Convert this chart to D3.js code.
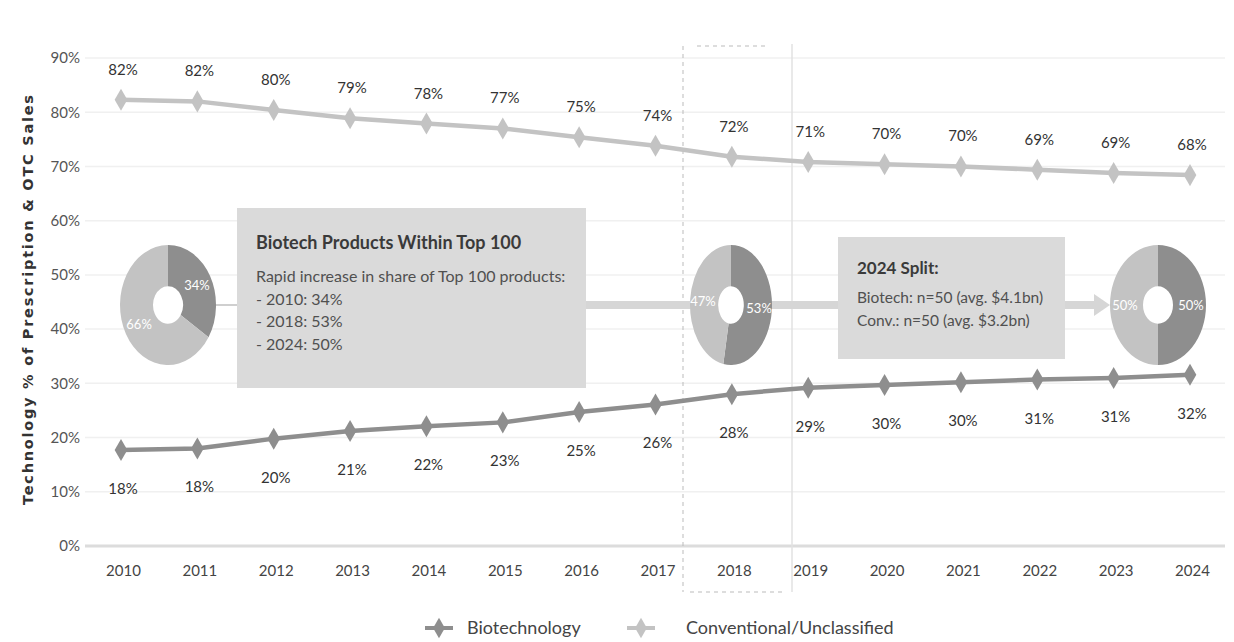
<!DOCTYPE html>
<html><head><meta charset="utf-8">
<script src="https://cdn.jsdelivr.net/npm/d3@7"></script>
<style>
html,body{margin:0;padding:0;background:#fff;}
svg{display:block;font-family:Lato,"Open Sans",sans-serif;}
</style></head>
<body><svg id="c" width="1234" height="642"></svg>
<script>
const years = [2010,2011,2012,2013,2014,2015,2016,2017,2018,2019,2020,2021,2022,2023,2024];
const conventional = [82.3,82.0,80.4,78.9,77.9,77.0,75.4,73.8,71.8,70.8,70.4,70.0,69.4,68.8,68.4];
const biotech = [17.7,18.0,19.8,21.2,22.1,22.8,24.7,26.1,28.0,29.2,29.7,30.2,30.7,31.0,31.6];
const yTicks = [0,10,20,30,40,50,60,70,80,90];
const seriesNames = ["Biotechnology","Conventional/Unclassified"];
const donutYears = [2010,2018,2024];
const donutBiotech = [34,53,50];
const box1Title = "Biotech Products Within Top 100";
const box1Lines = ["Rapid increase in share of Top 100 products:","- 2010: 34%","- 2018: 53%","- 2024: 50%"];
const box2Title = "2024 Split:";
const box2Lines = ["Biotech: n=50 (avg. $4.1bn)","Conv.: n=50 (avg. $3.2bn)"];
const yTitle = "Technology % of Prescription & OTC Sales";

const svg = d3.select("#c");
const x = d3.scalePoint().domain(years).range([121,1190]);
const y = d3.scaleLinear().domain([0,90]).range([546,58]);
const darkC = "#8e8e8e", lightC = "#c3c3c3";

// gridlines
svg.append("g").selectAll("line").data(yTicks.filter(d=>d>0)).join("line")
  .attr("x1",85).attr("x2",1225).attr("y1",d=>y(d)).attr("y2",d=>y(d))
  .attr("stroke","#f0f0f0").attr("stroke-width",1.5);
svg.append("line").attr("x1",85).attr("x2",1225).attr("y1",y(0)).attr("y2",y(0))
  .attr("stroke","#dcdcdc").attr("stroke-width",3);

// y axis ticks
const yAxis = d3.axisLeft(y).tickValues(yTicks).tickFormat(d=>d+"%").tickSize(0).tickPadding(0);
const ga = svg.append("g").attr("transform","translate(80,0)").call(yAxis);
ga.select(".domain").remove();
ga.selectAll("text").attr("font-size",15).attr("fill","#555").attr("font-family","Lato,sans-serif");

// x axis
const xAxis = d3.axisBottom(x).tickSize(0).tickPadding(0).tickFormat(d=>String(d));
const gx = svg.append("g").attr("transform","translate(2,565)").call(xAxis);
gx.select(".domain").remove();
gx.selectAll("text").attr("font-size",15).attr("fill","#444").attr("font-family","Lato,sans-serif");

// y title
svg.append("text").attr("transform","translate(33,300) rotate(-90)").attr("text-anchor","middle")
  .attr("font-family","'DejaVu Sans',sans-serif")
  .attr("font-size",14.5).attr("font-weight","bold").attr("fill","#333")
  .attr("textLength",410).attr("lengthAdjust","spacing").text(yTitle);

// 2018 highlight
const hx1 = 683, hx2 = 792;
svg.append("line").attr("x1",hx1).attr("x2",hx1).attr("y1",46).attr("y2",592).attr("stroke","#bbb").attr("stroke-dasharray","4,4");
svg.append("line").attr("x1",hx1+14).attr("x2",hx1+86).attr("y1",46).attr("y2",46).attr("stroke","#bbb").attr("stroke-dasharray","4,4");
svg.append("line").attr("x1",hx1+7).attr("x2",hx2-7).attr("y1",592).attr("y2",592).attr("stroke","#bbb").attr("stroke-dasharray","4,4");
svg.append("line").attr("x1",hx2).attr("x2",hx2).attr("y1",44).attr("y2",592).attr("stroke","#e2e2e2").attr("stroke-width",1.5);

// lines
const line = d3.line().x((d,i)=>x(years[i])).y(d=>y(d));
svg.append("path").datum(conventional).attr("d",line).attr("fill","none").attr("stroke",lightC).attr("stroke-width",4.5);
svg.append("path").datum(biotech).attr("d",line).attr("fill","none").attr("stroke",darkC).attr("stroke-width",4.5);
const sym = d3.symbol().type(d3.symbolDiamond).size(140);
svg.append("g").selectAll("path").data(conventional).join("path")
  .attr("transform",(d,i)=>`translate(${x(years[i])},${y(d)})`).attr("d",sym).attr("fill",lightC);
svg.append("g").selectAll("path").data(biotech).join("path")
  .attr("transform",(d,i)=>`translate(${x(years[i])},${y(d)})`).attr("d",sym).attr("fill",darkC);

// data labels
svg.append("g").selectAll("text").data(conventional).join("text")
  .attr("x",(d,i)=>x(years[i])+2).attr("y",d=>y(d)-25).attr("text-anchor","middle")
  .attr("font-size",15).attr("fill","#333").text(d=>Math.round(d)+"%");
svg.append("g").selectAll("text").data(biotech).join("text")
  .attr("x",(d,i)=>x(years[i])+2).attr("y",d=>y(d)+44).attr("text-anchor","middle")
  .attr("font-size",15).attr("fill","#333").text(d=>Math.round(d)+"%");

// connectors
const cy = 305;
svg.append("line").attr("x1",214).attr("x2",238).attr("y1",cy).attr("y2",cy).attr("stroke","#cfcfcf").attr("stroke-width",2);
const conn = svg.append("g").attr("stroke","#d6d6d6").attr("stroke-width",8);
conn.append("line").attr("x1",586).attr("x2",692).attr("y1",cy).attr("y2",cy);
conn.append("line").attr("x1",770).attr("x2",838).attr("y1",cy).attr("y2",cy);
conn.append("line").attr("x1",1065).attr("x2",1096).attr("y1",cy).attr("y2",cy);
svg.append("path").attr("d",`M1094,${cy-11} L1110,${cy} L1094,${cy+11} Z`).attr("fill","#d6d6d6");

// boxes
function box(x0,y0,w,h,title,lines,titleY,lineY0,lineStep,tSize,bSize){
  svg.append("rect").attr("x",x0).attr("y",y0).attr("width",w).attr("height",h).attr("fill","#dadada");
  svg.append("text").attr("x",x0+19).attr("y",titleY).attr("font-size",tSize).attr("font-weight","bold").attr("fill","#3a3a3a").text(title);
  svg.append("g").selectAll("text").data(lines).join("text").attr("x",x0+19).attr("y",(d,i)=>lineY0+i*lineStep)
    .attr("font-size",bSize).attr("fill","#505050").text(d=>d);
}
box(237,208,349,180,box1Title,box1Lines,249,282,22.5,18,16);
box(838,237,227,122,box2Title,box2Lines,274,303,23,17,15.5);

// donuts
const donutX = [168,731,1158];
const donutRx = [48,41,48];
const pie = d3.pie().sort(null).value(d=>d);
donutYears.forEach((yr,k)=>{
  const b = donutBiotech[k];
  const sx = donutRx[k]/48;
  const g = svg.append("g").attr("transform",`translate(${donutX[k]},${cy}) scale(${sx},1.25)`);
  const arc = d3.arc().innerRadius(15).outerRadius(48);
  const arcs = pie([b,100-b]);
  g.selectAll("path").data(arcs).join("path").attr("d",arc).attr("fill",(d,i)=>i===0?darkC:lightC);
  const la = d3.arc().innerRadius(33).outerRadius(33);
  g.selectAll("text").data(arcs).join("text")
    .attr("transform",d=>{const c=la.centroid(d);return `translate(${c[0]},${c[1]}) scale(${1/sx},0.8)`;})
    .attr("text-anchor","middle").attr("dy","0.35em").attr("font-size",13).attr("fill","#fff")
    .text(d=>d.data+"%");
});

// legend
const lg = svg.append("g").attr("transform","translate(0,628)");
[[425,467,darkC],[627,686,lightC]].forEach((p,i)=>{
  lg.append("line").attr("x1",p[0]).attr("x2",p[0]+28).attr("y1",0).attr("y2",0).attr("stroke",p[2]).attr("stroke-width",4);
  lg.append("path").attr("transform",`translate(${p[0]+14},0)`).attr("d",d3.symbol().type(d3.symbolDiamond).size(120)).attr("fill",p[2]);
  lg.append("text").attr("x",p[1]).attr("y",0).attr("dy","0.35em").attr("font-size",18).attr("fill","#444").text(seriesNames[i]);
});
</script></body></html>
